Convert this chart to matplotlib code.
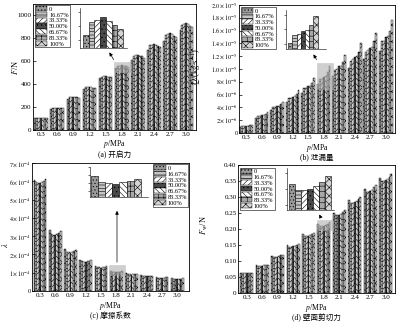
import matplotlib
matplotlib.use("Agg")
import matplotlib.pyplot as plt
import numpy as np

plt.rcParams['font.family'] = ['Liberation Serif', 'Noto Sans CJK SC']
plt.rcParams['mathtext.fontset'] = 'stix'
plt.rcParams['hatch.linewidth'] = 0.4
plt.rcParams['axes.linewidth'] = 0.6

# 数据
pressures = ['0.3', '0.6', '0.9', '1.2', '1.5', '1.8', '2.1', '2.4', '2.7', '3.0']
ratios = ['0', '16.67%', '33.33%', '50.00%', '66.67%', '83.33%', '100%']

# (a) 开启力 F/N, 每行一个压力, 每列一个比例
F_open = [
    [103, 106, 107, 107, 107, 106, 105],
    [185, 192, 194, 195, 194, 192, 190],
    [275, 285, 287, 289, 287, 285, 282],
    [360, 372, 375, 377, 374, 371, 367],
    [450, 465, 468, 471, 467, 463, 459],
    [545, 559, 561, 564, 560, 556, 551],
    [610, 645, 652, 657, 650, 642, 632],
    [700, 738, 745, 750, 742, 733, 722],
    [780, 830, 838, 845, 836, 825, 812],
    [870, 920, 928, 933, 925, 912, 900],
]
# (b) 泄漏量 Q, 单位 1e-5 kg/s
Q_leak = [
    [0.095, 0.105, 0.107, 0.110, 0.112, 0.118, 0.13],
    [0.24, 0.27, 0.27, 0.28, 0.285, 0.30, 0.33],
    [0.36, 0.40, 0.40, 0.42, 0.42, 0.45, 0.49],
    [0.49, 0.54, 0.55, 0.57, 0.58, 0.61, 0.67],
    [0.63, 0.70, 0.71, 0.73, 0.74, 0.78, 0.86],
    [0.76, 0.84, 0.85, 0.88, 0.89, 0.95, 1.04],
    [0.89, 0.99, 1.00, 1.04, 1.05, 1.11, 1.22],
    [1.02, 1.13, 1.15, 1.19, 1.20, 1.27, 1.40],
    [1.15, 1.27, 1.29, 1.33, 1.35, 1.43, 1.57],
    [1.28, 1.43, 1.44, 1.50, 1.51, 1.60, 1.76],
]
# (c) 摩擦系数 λ, 单位 1e-4
lam = [
    [6.08, 5.98, 5.93, 5.88, 5.95, 6.02, 6.10],
    [3.32, 3.12, 3.08, 3.05, 3.10, 3.18, 3.28],
    [2.27, 2.15, 2.12, 2.10, 2.14, 2.18, 2.24],
    [1.72, 1.63, 1.61, 1.59, 1.62, 1.65, 1.69],
    [1.38, 1.31, 1.29, 1.28, 1.30, 1.32, 1.35],
    [1.11, 1.05, 1.04, 1.03, 1.05, 1.06, 1.08],
    [0.97, 0.92, 0.91, 0.90, 0.92, 0.93, 0.95],
    [0.86, 0.82, 0.81, 0.80, 0.81, 0.83, 0.84],
    [0.77, 0.73, 0.72, 0.72, 0.73, 0.74, 0.76],
    [0.70, 0.66, 0.65, 0.65, 0.66, 0.67, 0.69],
]
# (d) 壁面剪切力 Fw/N
F_wall = [
    [0.063, 0.062, 0.062, 0.062, 0.063, 0.063, 0.064],
    [0.087, 0.085, 0.085, 0.085, 0.086, 0.087, 0.089],
    [0.117, 0.114, 0.114, 0.114, 0.116, 0.118, 0.120],
    [0.149, 0.145, 0.145, 0.146, 0.148, 0.150, 0.153],
    [0.183, 0.178, 0.178, 0.179, 0.181, 0.184, 0.188],
    [0.215, 0.209, 0.209, 0.210, 0.213, 0.217, 0.222],
    [0.250, 0.243, 0.243, 0.244, 0.248, 0.253, 0.259],
    [0.290, 0.282, 0.282, 0.283, 0.288, 0.294, 0.301],
    [0.326, 0.317, 0.317, 0.318, 0.323, 0.330, 0.337],
    [0.360, 0.350, 0.350, 0.352, 0.357, 0.364, 0.372],
]

a_ticks = [0, 200, 400, 600, 800, 1000]
a_ticklabels = ['0', '200', '400', '600', '800', '1000']
b_ticks = [0, 0.2, 0.4, 0.6, 0.8, 1.0, 1.2, 1.4, 1.6, 1.8, 2.0]
b_ticklabels = ['0', r'$2\times10^{-6}$', r'$4\times10^{-6}$', r'$6\times10^{-6}$', r'$8\times10^{-6}$',
                r'$1.0\times10^{-5}$', r'$1.2\times10^{-5}$', r'$1.4\times10^{-5}$', r'$1.6\times10^{-5}$',
                r'$1.8\times10^{-5}$', r'$2.0\times10^{-5}$']
c_ticks = [0, 1, 2, 3, 4, 5, 6, 7]
c_ticklabels = ['0'] + [r'$%d\times10^{-4}$' % k for k in range(1, 8)]
d_ticks = [0, 0.05, 0.10, 0.15, 0.20, 0.25, 0.30, 0.35, 0.40]
d_ticklabels = ['0', '0.05', '0.10', '0.15', '0.20', '0.25', '0.30', '0.35', '0.40']

# 样式
faces = ['#9a9a9a', '#c4c4c4', 'white', '#4a4a4a', 'white', '#a8a8a8', '#d4d4d4']
hatches = ['.....', '-----', '//////', '....', '\\\\\\\\\\\\', '+++', 'xxxx']

W, H = 402, 323
fig = plt.figure(figsize=(W / 100, H / 100), dpi=100)


def box(x0, y0, x1, y1):
    # 像素(左上原点) -> figure fraction
    return [x0 / W, 1 - y1 / H, (x1 - x0) / W, (y1 - y0) / H]


def fpt(x, y):
    return (x / W, 1 - y / H)


def bars(ax, data, gw=0.84):
    data = np.array(data)
    n = data.shape[1]
    bw = gw / n
    x = np.arange(data.shape[0])
    for j in range(n):
        ax.bar(x - gw / 2 + bw * (j + 0.5), data[:, j], bw, color=faces[j], hatch=hatches[j],
               edgecolor='k', linewidth=0.3, label=ratios[j])
    ax.set_xticks(x)
    ax.set_xticklabels(pressures)


def inset(rect, vals, ylim, xlim=(-1.0, 7.2)):
    ia = fig.add_axes(rect)
    for j, v in enumerate(vals):
        ia.bar(j, v, 1.0, color=faces[j], hatch=hatches[j], edgecolor='k', linewidth=0.4)
    ia.set_ylim(*ylim)
    ia.set_xlim(*xlim)
    ia.spines['top'].set_visible(False)
    ia.spines['right'].set_visible(False)
    ia.spines['left'].set_linewidth(0.4)
    ia.spines['bottom'].set_linewidth(0.4)
    ia.set_xticks([])
    ia.tick_params(axis='y', length=1.5, width=0.4, labelleft=False)
    ia.yaxis.set_major_locator(plt.MaxNLocator(4))
    ia.patch.set_alpha(0)
    return ia


def arrow(head, tail):
    fig.add_artist(matplotlib.patches.FancyArrowPatch(fpt(*tail), fpt(*head), transform=fig.transFigure,
                                                      arrowstyle='-|>', mutation_scale=5, lw=0.5, color='k'))


def decorate(ax, ticks, labels, ylim, xlim, ylabel, lab_xy, caption, leg_anchor, leg_loc, ysize=5):
    ax.set_ylim(*ylim)
    ax.set_xlim(*xlim)
    ax.set_yticks(ticks)
    ax.set_yticklabels(labels)
    ax.tick_params(direction='in', length=2, width=0.5, labelsize=5, pad=1.2)
    ax.tick_params(axis='y', labelsize=ysize, pad=1.0)
    ax.set_ylabel(ylabel, fontsize=6)
    ax.yaxis.set_label_coords(*lab_xy)
    ax.text(0.5, -0.115, '$p$/MPa', transform=ax.transAxes, ha='center', va='center', fontsize=5.5)
    ax.text(0.5, -0.195, caption, transform=ax.transAxes, ha='center', va='center', fontsize=5.5)
    ax.legend(loc=leg_loc, bbox_to_anchor=leg_anchor, fontsize=4.6, frameon=True, fancybox=False,
              edgecolor='k', framealpha=1, borderpad=0.15, labelspacing=0.0, handlelength=1.8,
              handleheight=0.85, handletextpad=0.3, borderaxespad=0).get_frame().set_linewidth(0.4)


# (a)
ax_a = fig.add_axes(box(33, 4, 196, 130))
bars(ax_a, F_open)
decorate(ax_a, a_ticks, a_ticklabels, (0, 1100), (-0.5, 9.6), '$F$/N', (-0.08, 0.5), '(a) 开启力',
         (0.01, 0.99), 'upper left')
ax_a.add_patch(plt.Rectangle((4.55, 505), 1.05, 85, color='#b0b0b0', alpha=0.6, lw=0.4, zorder=5))
inset(box(80, 8, 127, 48), F_open[5], (531, 574))
arrow((108, 50), (115, 62))

# (b)
ax_b = fig.add_axes(box(239, 5, 395, 133))
bars(ax_b, Q_leak, gw=0.88)
decorate(ax_b, b_ticks, b_ticklabels, (0, 2.0), (-0.46, 9.6), '$Q$/(kg$\\cdot$s$^{-1}$)', (-0.225, 0.52),
         '(b) 泄漏量', (0.01, 0.985), 'upper left', ysize=4.4)
ax_b.add_patch(plt.Rectangle((4.57, 0.68), 1.05, 0.42, color='#b0b0b0', alpha=0.6, lw=0.4, zorder=5))
inset(box(286, 10, 326, 49), Q_leak[5], (0.70, 1.10), xlim=(-1.0, 8.5))
arrow((312, 52), (318, 62))

# (c)
ax_c = fig.add_axes(box(32, 163, 189, 291))
bars(ax_c, lam)
decorate(ax_c, c_ticks, c_ticklabels, (0, 7), (-0.52, 9.77), '$\\lambda$', (-0.14, 0.36), '(c) 摩擦系数',
         (0.995, 0.99), 'upper right', ysize=4.4)
ax_c.add_patch(plt.Rectangle((4.55, 0.86), 1.05, 0.54, color='#b0b0b0', alpha=0.6, lw=0.4, zorder=5))
inset(box(90, 167, 148, 197), lam[5], (0.9, 1.2), xlim=(-0.6, 7.5))
arrow((117, 208), (117, 265))

# (d)
ax_d = fig.add_axes(box(238, 165, 395, 293))
bars(ax_d, F_wall)
decorate(ax_d, d_ticks, d_ticklabels, (0, 0.40), (-0.56, 9.6), '$F_{\\rm w}$/N', (-0.18, 0.53),
         '(d) 壁面剪切力', (0.01, 0.98), 'upper left')
ax_d.add_patch(plt.Rectangle((4.55, 0.197), 1.05, 0.031, color='#b0b0b0', alpha=0.6, lw=0.4, zorder=5))
inset(box(287, 168, 334, 210), F_wall[5], (0.19, 0.23), xlim=(-0.8, 7.0))
arrow((318, 212), (322, 220))

fig.savefig('out.png', dpi=100)
